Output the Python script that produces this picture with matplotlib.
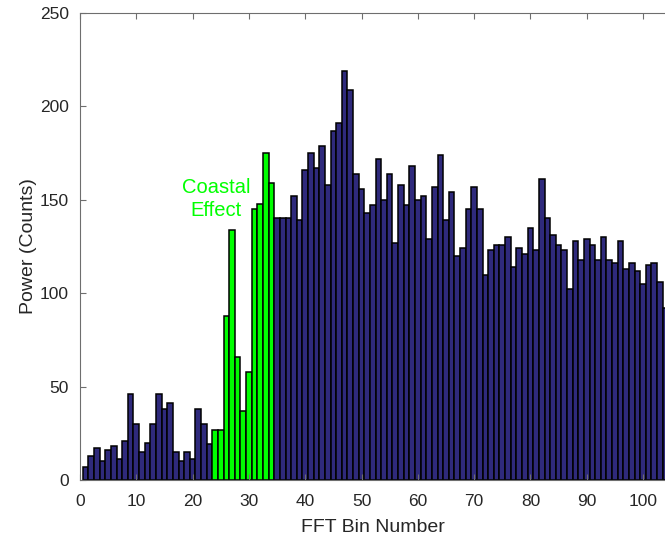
import matplotlib
matplotlib.use("Agg")
import matplotlib.pyplot as plt

# FFT bins 1..104 and their power
bins = list(range(1, 105))
power = [7, 13, 17, 10, 16, 18, 11, 21, 46, 30,
         15, 20, 30, 46, 38, 41, 15, 10, 15, 11,
         38, 30, 19, 27, 27, 88, 134, 66, 37, 58,
         145, 148, 175, 159, 140, 140, 140, 152, 139, 166,
         175, 167, 179, 158, 187, 191, 219, 209, 164, 156,
         143, 147, 172, 150, 164, 127, 158, 147, 168, 150,
         152, 129, 157, 174, 139, 154, 120, 124, 145, 157,
         145, 110, 123, 126, 126, 130, 114, 124, 121, 135,
         123, 161, 140, 131, 126, 123, 102, 128, 118, 129,
         126, 118, 130, 118, 116, 128, 113, 116, 112, 105,
         115, 116, 106, 92]
coastal_bins = list(range(24, 35))   # highlighted in green

BLUE = "#2f2a7c"
GREEN = "#00ff00"
TXT = "#262626"

plt.rcParams["font.family"] = ["Liberation Sans", "DejaVu Sans"]

fig = plt.figure(figsize=(6.65, 5.39), dpi=100)
ax = fig.add_axes([0.1203, 0.1095, 0.8797, 0.8664])

colors = [GREEN if b in coastal_bins else BLUE for b in bins]
ax.bar(bins, power, width=1.0, color=colors, edgecolor="black", linewidth=1.1)

ax.text(24.2, 150.5, "Coastal\nEffect", color=GREEN, fontsize=14.5,
        ha="center", va="center", linespacing=1.3)

ax.set_xlim(0, 103.9)
ax.set_ylim(0, 250)
ax.set_xticks(range(0, 101, 10))
ax.set_yticks(range(0, 251, 50))
ax.tick_params(direction="in", length=4, top=True, right=False,
               labelsize=12.5, colors="#6e6e6e", labelcolor=TXT)
ax.tick_params(axis="x", pad=10)
ax.tick_params(axis="y", pad=8)
for s in ("left", "bottom", "top"):
    ax.spines[s].set_color("#6e6e6e")
ax.spines["right"].set_visible(False)

ax.set_xlabel("FFT Bin Number", fontsize=14, color=TXT, labelpad=7)
ax.set_ylabel("Power (Counts)", fontsize=14, color=TXT, labelpad=2)

fig.savefig("out.png", dpi=100)
